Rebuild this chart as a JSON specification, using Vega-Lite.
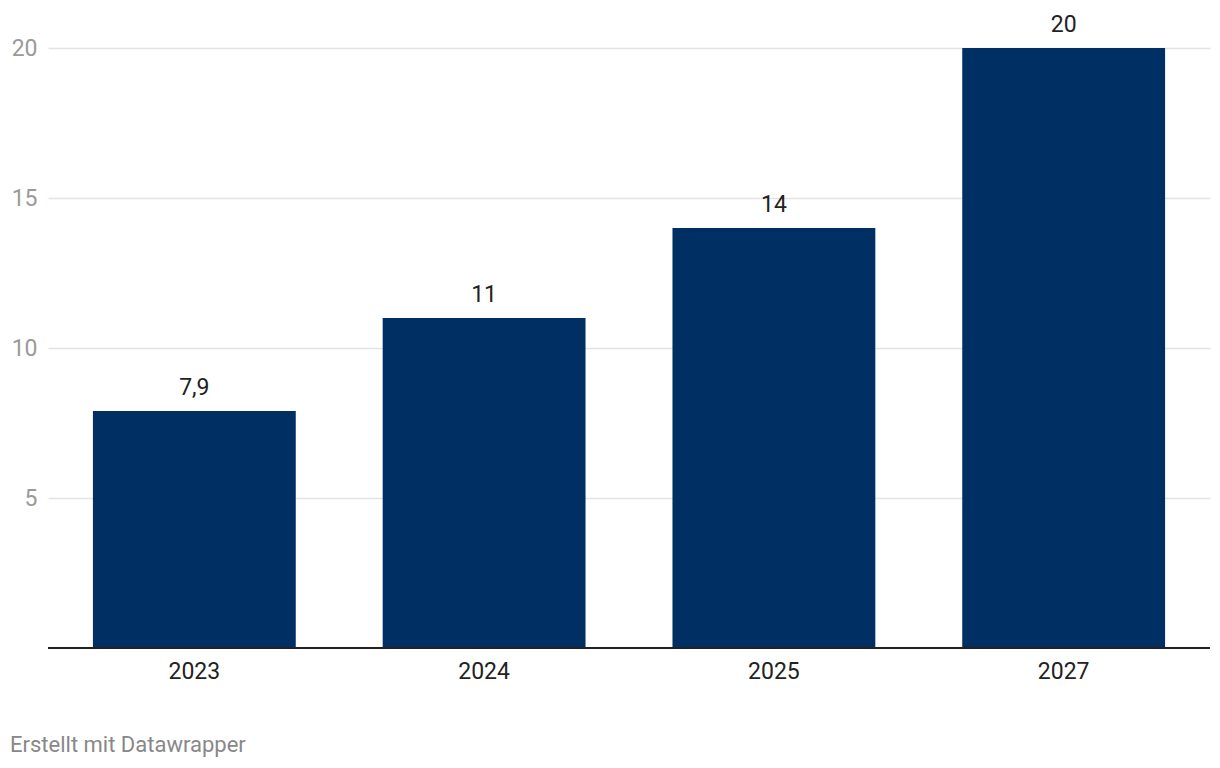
{
  "$schema": "https://vega.github.io/schema/vega-lite/v6.json",
  "autosize": {"type": "none"},
  "width": 1162,
  "height": 600,
  "padding": {"left": 48, "top": 48, "right": 10, "bottom": 120},
  "background": "white",
  "config": {
    "view": {"stroke": null},
    "font": "Roboto",
    "locale": {"number": {"decimal": ",", "thousands": ".", "grouping": [3], "currency": ["", " €"]}}
  },
  "title": {
    "text": "Erstellt mit Datawrapper",
    "orient": "bottom",
    "anchor": "start",
    "frame": "group",
    "dx": -38,
    "offset": 52,
    "font": "Roboto",
    "fontSize": 22,
    "fontWeight": "normal",
    "color": "#888888"
  },
  "data": {
    "values": [
      {"year": "2023", "value": 7.9},
      {"year": "2024", "value": 11},
      {"year": "2025", "value": 14},
      {"year": "2027", "value": 20}
    ]
  },
  "layer": [
    {
      "mark": {"type": "bar", "color": "#002f63"},
      "encoding": {
        "x": {
          "field": "year",
          "type": "ordinal",
          "scale": {"paddingInner": 0.3, "paddingOuter": 0.155},
          "axis": {
            "title": null,
            "domain": false,
            "ticks": false,
            "labelAngle": 0,
            "labelFont": "Roboto",
            "labelFontSize": 23,
            "labelColor": "#222222",
            "labelPadding": 12
          }
        },
        "y": {
          "field": "value",
          "type": "quantitative",
          "scale": {"domain": [0, 20], "nice": false},
          "axis": {
            "title": null,
            "values": [5, 10, 15, 20],
            "domain": false,
            "ticks": false,
            "labelFont": "Roboto",
            "labelFontSize": 23,
            "labelColor": "#9a9a9a",
            "labelPadding": 11,
            "gridColor": "#e3e3e3",
            "gridWidth": 1.5
          }
        }
      }
    },
    {
      "mark": {"type": "text", "baseline": "alphabetic", "dy": -16, "fontSize": 23, "color": "#222222", "font": "Roboto"},
      "encoding": {
        "x": {"field": "year", "type": "ordinal"},
        "y": {"field": "value", "type": "quantitative"},
        "text": {"field": "value", "type": "quantitative", "format": ".1~f"}
      }
    },
    {
      "data": {"values": [{"base": 0}]},
      "mark": {"type": "rule", "color": "#222222", "strokeWidth": 2},
      "encoding": {
        "y": {"field": "base", "type": "quantitative"}
      }
    }
  ]
}
